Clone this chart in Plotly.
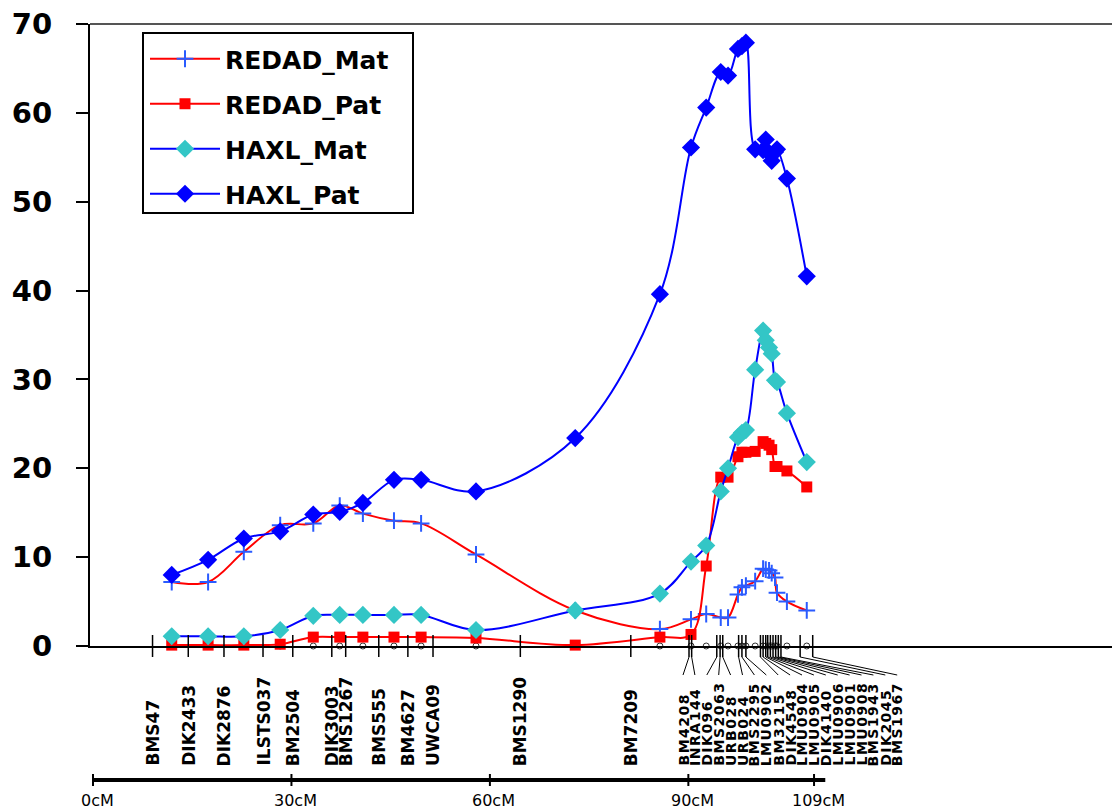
import plotly.graph_objects as go

# ---------------- data ----------------
# positions (cM) of the tested points along the chromosome
pos_cm = [11.9, 17.4, 22.8, 28.3, 33.3, 37.3, 40.8, 45.5, 49.6, 57.9, 72.9, 85.7,
          90.4, 92.7, 94.9, 96.0, 97.5, 98.1, 98.7, 100.1, 101.3, 101.7, 102.2,
          102.6, 103.1, 103.4, 104.9, 107.9]

redad_mat = [7.2, 7.2, 10.6, 13.6, 13.8, 15.8, 14.9, 14.1, 13.8, 10.3, 4.0, 1.9,
             3.0, 3.6, 3.2, 3.2, 5.8, 6.6, 6.8, 7.3, 8.7, 8.6, 8.5, 8.2, 7.7, 6.0, 5.0, 4.0]
redad_pat = [0.1, 0.1, 0.1, 0.2, 1.0, 1.0, 1.0, 1.0, 1.0, 0.9, 0.1, 1.0,
             1.3, 9.0, 19.0, 19.0, 21.3, 21.8, 21.8, 21.9, 23.0, 22.8, 22.6, 22.1, 20.2, 20.2, 19.7, 17.9]
haxl_mat = [1.1, 1.1, 1.1, 1.8, 3.4, 3.5, 3.5, 3.5, 3.5, 1.8, 4.0, 5.9,
            9.5, 11.3, 17.4, 20.0, 23.5, 24.0, 24.3, 31.1, 35.5, 34.4, 33.6, 32.9, 29.9, 29.7, 26.2, 20.7]
haxl_pat = [8.0, 9.7, 12.1, 12.9, 14.8, 15.1, 16.1, 18.7, 18.7, 17.4, 23.4, 39.6,
            56.1, 60.6, 64.6, 64.2, 67.2, 67.5, 67.9, 55.9, 55.8, 57.0, 55.5, 54.6, 55.6, 55.9, 52.6, 41.6]

marker_names = ["BMS47", "DIK2433", "DIK2876", "ILSTS037", "BM2504", "DIK3003", "BMS1267",
                "BMS555", "BM4627", "UWCA09", "BMS1290", "BM7209", "BM4208", "INRA144",
                "DIK096", "BMS2063", "URB028", "URB024", "BMS2295", "LMU0902", "BM3215",
                "DIK4548", "LMU0904", "LMU0905", "DIK4140", "LMU0906", "LMU0901", "LMU0908",
                "BMS1943", "DIK2045", "BMS1967"]
marker_cm = [9.0, 14.4, 19.8, 25.7, 30.2, 36.1, 38.2, 43.2, 47.6, 51.4, 64.6, 81.3,
             90.1, 90.5, 94.3, 94.8, 95.2, 97.6, 98.1, 98.7, 100.9, 101.3, 101.7, 102.0,
             102.4, 102.8, 103.2, 103.6, 104.0, 106.9, 108.8]

ruler_ticks = [0, 30, 60, 90, 109]
ruler_end_cm = 110.7

y_ticks = [0, 10, 20, 30, 40, 50, 60, 70]

# ---------------- layout geometry ----------------
W, H = 1112, 809
PLOT_TOP, PLOT_BOTTOM, PLOT_LEFT = 24, 646, 90
PX0, PX_PER_CM = 93.0, 6.615
x_range = [(PLOT_LEFT - PX0) / PX_PER_CM, (W - PX0) / PX_PER_CM]


def py(Y):
    return (PLOT_BOTTOM - Y) / (PLOT_BOTTOM - PLOT_TOP)


def pxp(X):
    return (X - PLOT_LEFT) / (W - PLOT_LEFT)


FONT = "DejaVu Sans"
crowded_from = 12                     # index of first marker drawn with a leader line
label_start_cm = (683 - PX0) / PX_PER_CM
label_step_cm = 11.9 / PX_PER_CM

fig = go.Figure()

# small circles on the axis at tested positions
fig.add_trace(go.Scatter(x=pos_cm, y=[0] * len(pos_cm), mode="markers", showlegend=False,
                         cliponaxis=False, hoverinfo="skip",
                         marker=dict(symbol="circle-open", size=6, color="#333333",
                                     line=dict(width=1, color="#333333"))))

series = [
    ("REDAD_Mat", redad_mat, "#FF0000", dict(symbol="cross-thin", size=12, color="#2a5bff",
                                             line=dict(width=2, color="#2a5bff"))),
    ("REDAD_Pat", redad_pat, "#FF0000", dict(symbol="square", size=11, color="#FF0000",
                                             line=dict(width=0))),
    ("HAXL_Mat", haxl_mat, "#0000FF", dict(symbol="diamond", size=14, color="#33C6C6",
                                           line=dict(width=0))),
    ("HAXL_Pat", haxl_pat, "#0000FF", dict(symbol="diamond", size=14, color="#0000FF",
                                           line=dict(width=0))),
]
for name, vals, lc, mk in series:
    fig.add_trace(go.Scatter(x=pos_cm, y=vals, name=name, mode="lines+markers",
                             legendgroup=name,
                             line=dict(color=lc, width=2, shape="spline", smoothing=1.0),
                             marker=mk, cliponaxis=False))

shapes = []
annotations = []

# top border
shapes.append(dict(type="line", xref="paper", yref="paper", x0=0, x1=1, y0=1, y1=1,
                   line=dict(color="#555555", width=2)))

# legend frame
shapes.append(dict(type="rect", xref="paper", yref="paper",
                   x0=pxp(143), x1=pxp(413), y0=py(213), y1=py(33),
                   fillcolor="white", line=dict(color="black", width=2)))

# marker ticks, leader lines and labels
for i, (nm, cm) in enumerate(zip(marker_names, marker_cm)):
    shapes.append(dict(type="line", xref="x", yref="paper", x0=cm, x1=cm,
                       y0=py(635), y1=py(657), line=dict(color="black", width=1.5)))
    if i >= crowded_from:
        lx = label_start_cm + (i - crowded_from) * label_step_cm
        shapes.append(dict(type="line", xref="x", yref="paper", x0=cm, x1=lx,
                           y0=py(657), y1=py(675), line=dict(color="black", width=1)))
        annotations.append(dict(x=lx, y=py(768), xref="x", yref="paper",
                                text='<span style="letter-spacing:1.5px">' + nm + '</span>',
                                showarrow=False, textangle=-90, xanchor="center",
                                yanchor="bottom",
                                font=dict(family=FONT, size=14, color="black", weight="bold")))
    else:
        annotations.append(dict(x=cm, y=py(768), xref="x", yref="paper", text=nm,
                                showarrow=False, textangle=-90, xanchor="center",
                                yanchor="bottom",
                                font=dict(family=FONT, size=17, color="black", weight="bold")))

# cM ruler
shapes.append(dict(type="line", xref="x", yref="paper", x0=0, x1=ruler_end_cm,
                   y0=py(780), y1=py(780), line=dict(color="black", width=4)))
for t in ruler_ticks:
    shapes.append(dict(type="line", xref="x", yref="paper", x0=t, x1=t,
                       y0=py(774), y1=py(786), line=dict(color="black", width=2)))
    annotations.append(dict(x=t, y=py(800), xref="x", yref="paper", text=f"{t}cM",
                            showarrow=False, xanchor="center", yanchor="middle", xshift=4,
                            font=dict(family=FONT, size=16, color="black")))

fig.update_layout(
    width=W, height=H,
    margin=dict(l=PLOT_LEFT, r=0, t=PLOT_TOP, b=H - PLOT_BOTTOM, pad=0),
    paper_bgcolor="white", plot_bgcolor="white",
    showlegend=True,
    legend=dict(x=pxp(145), y=py(36), xanchor="left", yanchor="top",
                bgcolor="rgba(0,0,0,0)", borderwidth=0,
                font=dict(family=FONT, size=25, color="black", weight="bold"),
                tracegroupgap=9.5, itemwidth=70),
    xaxis=dict(range=x_range, showgrid=False, zeroline=False, showticklabels=False,
               ticks="", showline=True, linecolor="black", linewidth=2),
    yaxis=dict(range=[0, 70], tickvals=y_ticks, showgrid=False, zeroline=False,
               ticks="outside", ticklen=12, tickwidth=1.5, tickcolor="black",
               showline=True, linecolor="black", linewidth=2, ticklabelstandoff=18,
               tickfont=dict(family=FONT, size=29, color="black", weight="bold")),
    shapes=shapes,
    annotations=annotations,
)

fig.write_html("out.html")
